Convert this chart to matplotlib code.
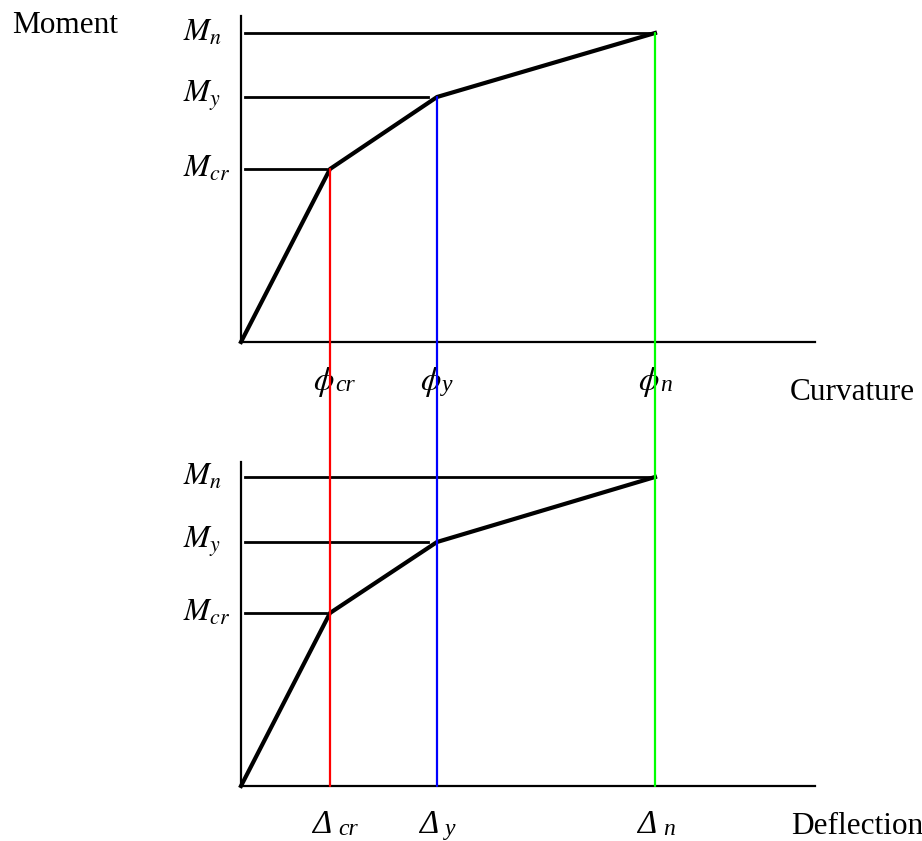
import matplotlib
matplotlib.use("Agg")
import matplotlib.pyplot as plt
from matplotlib.patches import ConnectionPatch

plt.rcParams['font.family'] = ['Liberation Serif', 'DejaVu Serif']
plt.rcParams['mathtext.fontset'] = 'stix'

# curvature / deflection at cracking, yield, nominal
phi = [0.0, 0.89, 1.96, 4.14]
delta = [0.0, 0.89, 1.96, 4.14]
# moments at the same points
M_top = [0.0, 1.73, 2.45, 3.09]
M_bot = [0.0, 1.73, 2.44, 3.09]
# ends of the horizontal guide lines
guide_end = [0.85, 1.87, 4.14]
colors = ['#ff0000', '#0000ff', '#00ff00']

m_labels = [r'$M_{cr}$', r'$M_{y}$', r'$M_{n}$']
subs = ['cr', 'y', 'n']

W, H = 922, 841
FS = 22.5
fig = plt.figure(figsize=(W / 100, H / 100), dpi=100)

def make_axes(bottom_px, top_px, ytop):
    ax = fig.add_axes([241 / W, (H - bottom_px) / H, 574 / W, (bottom_px - top_px) / H])
    ax.set_xlim(0, 5.74)
    ax.set_ylim(0, ytop)
    for s in ['top', 'right']:
        ax.spines[s].set_visible(False)
    for s in ['left', 'bottom']:
        ax.spines[s].set_linewidth(1.6)
    ax.set_xticks([])
    ax.set_yticks([])
    ax.patch.set_alpha(0)
    return ax

ax1 = make_axes(342, 16, 3.26)
ax2 = make_axes(786, 462, 3.24)

for ax, xs, ms in [(ax1, phi, M_top), (ax2, delta, M_bot)]:
    ax.plot(xs, ms, color='black', lw=3.0, solid_joinstyle='round', clip_on=False, zorder=5)
    for i in range(3):
        ax.plot([0.04, guide_end[i]], [ms[i + 1], ms[i + 1]], color='black', lw=2.0, clip_on=False)
        ax.text(-0.58, ms[i + 1], m_labels[i], fontsize=FS, ha='left', va='center')

# symbol + subscript labels under the x axes
for i in range(3):
    x0 = phi[i + 1] - 0.17
    ax1.text(x0, -0.48, r'$\phi$', fontsize=FS + 1, ha='left', va='baseline')
    ax1.annotate(subs[i], xy=(x0, -0.48), xytext=(16, -1), textcoords='offset points',
                 fontsize=17, fontstyle='italic', ha='left', va='baseline',
                 annotation_clip=False)
    x0 = delta[i + 1] - 0.18
    ax2.text(x0, -0.47, 'Δ', fontsize=FS + 1, fontstyle='italic', ha='left', va='baseline')
    ax2.annotate(subs[i], xy=(x0, -0.47), xytext=(19, -1.5), textcoords='offset points',
                 fontsize=17, fontstyle='italic', ha='left', va='baseline',
                 annotation_clip=False)

# vertical links from each point in the top plot down to the bottom axis
for i in range(3):
    con = ConnectionPatch(xyA=(phi[i + 1], M_top[i + 1]), coordsA=ax1.transData,
                          xyB=(delta[i + 1], 0), coordsB=ax2.transData,
                          color=colors[i], lw=1.6, zorder=3)
    fig.add_artist(con)

fig.text(12 / W, 1 - 33 / H, 'Moment', fontsize=FS, ha='left', va='baseline')
fig.text(790 / W, 1 - 400 / H, 'Curvature', fontsize=FS, ha='left', va='baseline')
fig.text(791 / W, 1 - 834 / H, 'Deflection', fontsize=FS, ha='left', va='baseline')

fig.savefig('out.png', dpi=100)
